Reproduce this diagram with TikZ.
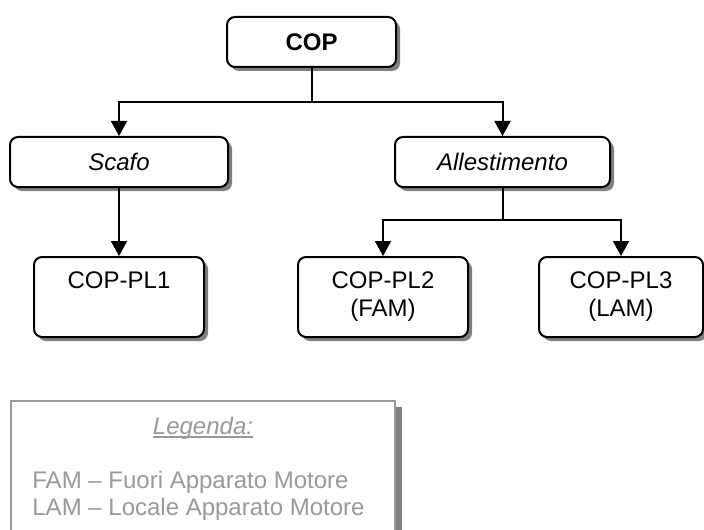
\documentclass[tikz,border=0pt]{standalone}
\usepackage{fontspec}
\setmainfont{Liberation Sans}
\definecolor{shadegray}{gray}{0.50}
\definecolor{leggray}{gray}{0.60}
\usetikzlibrary{arrows.meta,shadows}
\newsavebox{\legbox}
\newcommand{\legunder}[1]{\sbox{\legbox}{#1}\rlap{\rule[-2pt]{\wd\legbox}{0.9pt}}\usebox{\legbox}}
\tikzset{
  box/.style={draw,line width=1pt,rounded corners=4pt,fill=white,
    drop shadow={shadow xshift=2pt,shadow yshift=-2pt,fill=shadegray,opacity=1},
    align=center,inner sep=0pt,font=\fontsize{12}{14}\selectfont},
  smallbox/.style={box,minimum height=25pt},
  leafbox/.style={box,minimum width=85pt,minimum height=40pt},
  arr/.style={-{Triangle[width=8pt,length=7.5pt]},line width=1pt},
  bus/.style={line width=1pt},
  legtxt/.style={leggray,inner sep=0pt,font=\fontsize{12}{14}\selectfont},
}

\begin{document}
\begin{tikzpicture}[x=0.5pt,y=-0.5pt]
  \useasboundingbox (0,0) rectangle (704,529);
  % --- top level ---
  \node[smallbox,minimum width=84.5pt,font=\fontsize{12}{14}\selectfont\bfseries] (cop) at (311.5,42) {COP};
  % --- second level ---
  \node[smallbox,minimum width=109pt,font=\fontsize{12}{14}\selectfont\itshape] (scafo) at (119,162) {Scafo};
  \node[smallbox,minimum width=107.5pt,font=\fontsize{12}{14}\selectfont\itshape] (alle) at (502.5,162) {Allestimento};
  % --- leaves ---
  \node[leafbox] (pl1) at (119,297) {COP-PL1\\\phantom{(FAM)}};
  \node[leafbox] (pl2) at (383,297) {COP-PL2\\(FAM)};
  \node[leafbox,minimum width=82pt] (pl3) at (621,297) {COP-PL3\\(LAM)};
  % --- connectors ---
  \coordinate (busA) at (311.5,102);
  \coordinate (busB) at (502.5,220);
  \draw[bus] (cop.south) -- (busA);
  \draw[arr] (busA) -| (scafo.north);
  \draw[arr] (busA) -| (alle.north);
  \draw[arr] (scafo.south) -- (pl1.north);
  \draw[bus] (alle.south) -- (busB);
  \draw[arr] (busB) -| (pl2.north);
  \draw[arr] (busB) -| (pl3.north);
  % --- legenda (box runs off the bottom) ---
  \fill[shadegray] (396,407) rectangle (402,560);
  \draw[leggray,line width=1pt,fill=white] (11,401) rectangle (395,560);
  \node[legtxt,anchor=base] (legt) at (203,434) {\legunder{\itshape Legenda:}};
  \node[legtxt,anchor=base west] (fam) at (32,488) {FAM – Fuori Apparato Motore};
  \node[legtxt,anchor=base west] (lam) at (32,515) {LAM – Locale Apparato Motore};
\end{tikzpicture}
\end{document}
